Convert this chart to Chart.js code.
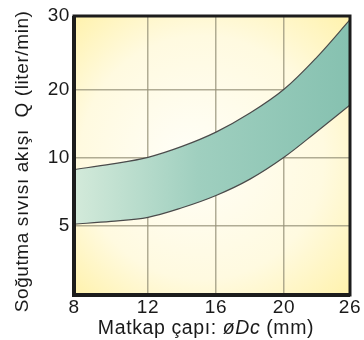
<!DOCTYPE html>
<html>
<head>
<meta charset="utf-8">
<script src="https://cdn.jsdelivr.net/npm/chart.js@4"></script>
<style>
  html, body { margin: 0; padding: 0; background: #fff; }
  #wrap { width: 364px; height: 340px; }
</style>
</head>
<body>
<div id="wrap"><canvas id="coolantChart" width="364" height="340"></canvas></div>
<script>
// tick values
const diameterTicks = [8, 12, 16, 20, 26];
const flowTicks = [0, 5, 10, 20, 30];

// drill diameter (mm) and coolant flow band (liter/min)
const diameters = [8, 10, 12, 14, 16, 18, 20, 23, 26];
const flowMax = [9.1, 9.5, 10, 11.6, 13.7, 16.5, 20, 24.4, 29.5];
const flowMin = [5.1, 5.3, 5.6, 6.3, 7.2, 8.4, 10, 13.8, 17.7];

// where each tick sits along its axis (the printed grid is only roughly even)
const xTickPos = [0, 74, 142, 210, 276];
const yTickPos = [0, 69.5, 137.7, 205.7, 279];

function toPos(v, ticks, pos) {
  for (let i = 0; i < ticks.length - 1; i++) {
    if (v <= ticks[i + 1]) {
      return pos[i] + (v - ticks[i]) / (ticks[i + 1] - ticks[i]) * (pos[i + 1] - pos[i]);
    }
  }
  return pos[pos.length - 1];
}

function points(values) {
  return diameters.map((d, i) => ({
    x: toPos(d, diameterTicks, xTickPos),
    y: toPos(values[i], flowTicks, yTickPos),
  }));
}

const font = "'Liberation Sans', Arial, Helvetica, sans-serif";

// yellow backdrop behind the plot, slight letter spacing for all text
const backdrop = {
  id: "backdrop",
  beforeDraw(chart) {
    const { ctx, chartArea: a } = chart;
    ctx.letterSpacing = "0.6px";
    const cx = (a.left + a.right) / 2;
    const cy = (a.top + a.bottom) / 2;
    const r = Math.hypot(a.right - a.left, a.bottom - a.top) / 2;
    const g = ctx.createRadialGradient(cx - 25, cy + 5, 10, cx, cy, r);
    g.addColorStop(0, "#fffef6");
    g.addColorStop(0.6, "#fffae0");
    g.addColorStop(1, "#fff2ac");
    ctx.save();
    ctx.fillStyle = g;
    ctx.fillRect(a.left, a.top, a.right - a.left, a.bottom - a.top);
    ctx.restore();
  },
};

// black frame and the x axis title (with italic øDc)
const frame = {
  id: "frame",
  afterDraw(chart) {
    const { ctx, chartArea: a } = chart;
    ctx.save();
    ctx.strokeStyle = "#1c1c1c";
    ctx.lineWidth = 3;
    ctx.strokeRect(a.left, a.top, a.right - a.left, a.bottom - a.top);
    ctx.lineWidth = 4;
    ctx.beginPath();
    ctx.moveTo(a.left, a.top);
    ctx.lineTo(a.left, a.bottom);
    ctx.lineTo(a.right, a.bottom);
    ctx.stroke();

    const parts = [
      { text: "Matkap çapı: ", italic: false },
      { text: "øDc", italic: true },
      { text: " (mm)", italic: false },
    ];
    ctx.fillStyle = "#1a1a1a";
    ctx.textBaseline = "alphabetic";
    ctx.textAlign = "left";
    let total = 0;
    parts.forEach((p) => {
      ctx.font = (p.italic ? "italic " : "") + "19.5px " + font;
      p.w = ctx.measureText(p.text).width;
      total += p.w;
    });
    let x = 206 - total / 2;
    parts.forEach((p) => {
      ctx.font = (p.italic ? "italic " : "") + "19.5px " + font;
      ctx.fillText(p.text, x, 334);
      x += p.w;
    });
    ctx.restore();
  },
};

function bandGradient(context) {
  const area = context.chart.chartArea;
  if (!area) return "#9fcfbf";
  const g = context.chart.ctx.createLinearGradient(area.left, 0, area.right, 0);
  g.addColorStop(0, "#d3eada");
  g.addColorStop(0.45, "#9fcfbf");
  g.addColorStop(1, "#86c1b0");
  return g;
}

const ctx = document.getElementById("coolantChart").getContext("2d");
new Chart(ctx, {
  type: "line",
  data: {
    datasets: [
      {
        label: "min",
        data: points(flowMin),
        borderColor: "#4a4a4a",
        borderWidth: 1.2,
        pointRadius: 0,
        tension: 0.35,
        fill: false,
      },
      {
        label: "max",
        data: points(flowMax),
        borderColor: "#4a4a4a",
        borderWidth: 1.2,
        pointRadius: 0,
        tension: 0.35,
        backgroundColor: bandGradient,
        fill: "-1",
      },
    ],
  },
  options: {
    responsive: false,
    animation: false,
    layout: { padding: { top: 16, right: 14, left: 0, bottom: 0 } },
    plugins: {
      legend: { display: false },
      tooltip: { enabled: false },
    },
    scales: {
      x: {
        type: "linear",
        min: 0,
        max: xTickPos[xTickPos.length - 1],
        afterFit(scale) { scale.height = 45; },
        afterBuildTicks(scale) { scale.ticks = xTickPos.map((v) => ({ value: v })); },
        grid: { color: "rgba(150,145,120,0.75)", lineWidth: 1.5, drawTicks: false },
        border: { display: false },
        ticks: {
          padding: 1,
          color: "#1a1a1a",
          font: { family: font, size: 19 },
          callback: (v) => diameterTicks[xTickPos.indexOf(v)],
        },
      },
      y: {
        type: "linear",
        min: 0,
        max: yTickPos[yTickPos.length - 1],
        afterFit(scale) { scale.width = 74; },
        afterBuildTicks(scale) { scale.ticks = yTickPos.map((v) => ({ value: v })); },
        grid: { color: "rgba(150,145,120,0.75)", lineWidth: 1.5, drawTicks: false },
        border: { display: false },
        ticks: {
          padding: 4,
          color: "#1a1a1a",
          font: { family: font, size: 19 },
          callback: (v) => {
            const t = flowTicks[yTickPos.indexOf(v)];
            return t === 0 ? "" : t;
          },
        },
        title: {
          display: true,
          text: "Soğutma sıvısı akışı  Q (liter/min)  ",
          color: "#1a1a1a",
          font: { family: font, size: 19 },
          padding: { top: 11, bottom: 0 },
        },
      },
    },
  },
  plugins: [backdrop, frame],
});
</script>
</body>
</html>
